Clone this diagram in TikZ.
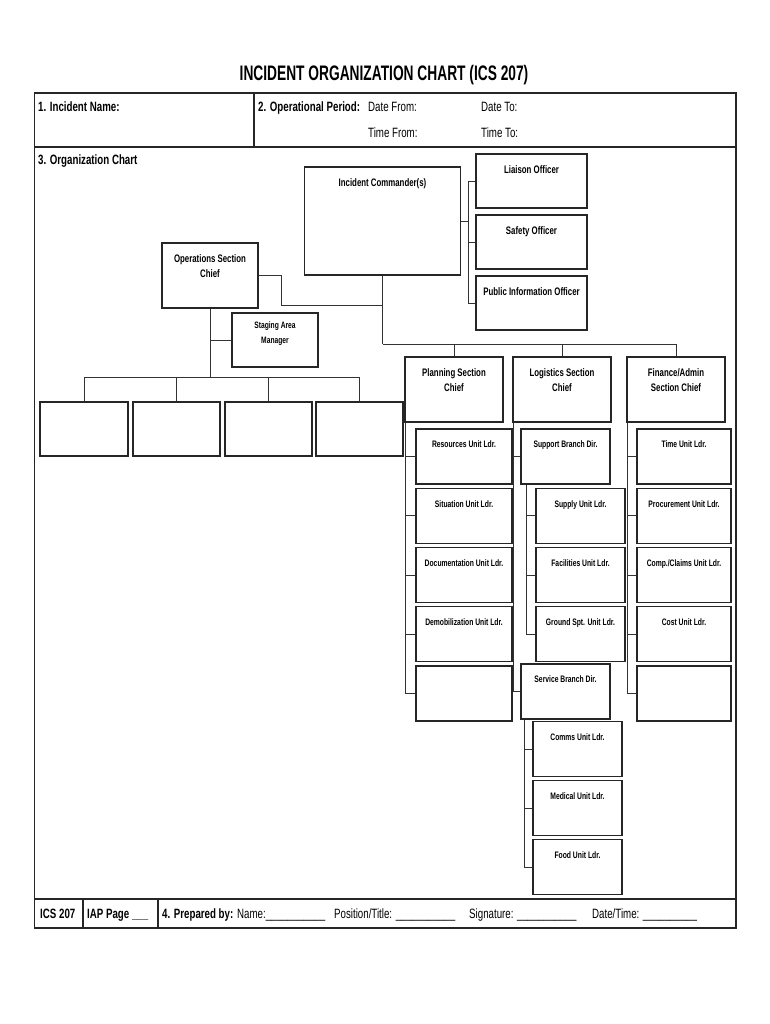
\documentclass[tikz,border=0pt]{standalone}
\usepackage{fontspec}
\setmainfont{Liberation Sans}[FakeStretch=0.72]
\newfontfamily\ttlfont{Liberation Sans}[FakeStretch=0.655]
\usetikzlibrary{calc}
\begin{document}
\begin{tikzpicture}[x=1pt,y=-1pt,
  frame/.style={line width=1.8pt, draw=black!85},
  obox/.style={draw=black!85, line width=1.3pt, inner sep=0pt, anchor=center},
  conn/.style={draw=black!80, line width=0.9pt},
  labbig/.style={anchor=north, inner sep=0pt, yshift=-12.5pt, align=center, font=\bfseries\fontsize{10.9}{15}\selectfont},
  labsm/.style={anchor=north, inner sep=0pt, yshift=-12.5pt, align=center, font=\bfseries\fontsize{9.4}{11}\selectfont},
  labxs/.style={anchor=north, inner sep=0pt, yshift=-9.5pt, align=center, font=\bfseries\fontsize{9.3}{15}\selectfont},
  hb/.style={anchor=base west, inner sep=0pt, font=\bfseries\fontsize{13.5}{15}\selectfont},
  hr/.style={anchor=base west, inner sep=0pt, font=\fontsize{13.5}{15}\selectfont},
  ttl/.style={anchor=base, inner sep=0pt, font=\ttlfont\bfseries\fontsize{21}{24}\selectfont}
]
\useasboundingbox (0,0) rectangle (770,1024);

% title and form frame
\node[ttl] (title) at (384,80.5) {INCIDENT ORGANIZATION CHART (ICS 207)};
\draw[frame] (34.5,93) rectangle (736,928);
\draw[frame] (34.5,147) -- (736,147);
\draw[frame] (254,93) -- (254,147);
\draw[frame] (34.5,899) -- (736,899);
\draw[frame] (83,899) -- (83,928);
\draw[frame] (158,899) -- (158,928);

% header texts
\node[hb] (h1) at (38,111.8) {1. Incident Name:};
\node[hb] (h2) at (258,111.8) {2. Operational Period:};
\node[hr] (df) at (368,111.8) {Date From:};
\node[hr] (dt) at (481,111.8) {Date To:};
\node[hr] (tf) at (368,137.8) {Time From:};
\node[hr] (tt) at (481,137.8) {Time To:};
\node[hb] (h3) at (38,164.8) {3. Organization Chart};

% footer texts
\node[hb] (f1t) at (40,918.8) {ICS 207};
\node[hb] (f2t) at (87,918.8) {IAP Page \_\_\_};
\node[hb] (f3t) at (162,918.8) {4. Prepared by:};
\node[hr] (f4t) at (237,918.8) {Name:\_\_\_\_\_\_\_\_\_\_\_};
\node[hr] (f5t) at (334,918.8) {Position/Title: \_\_\_\_\_\_\_\_\_\_\_};
\node[hr] (f6t) at (469,918.8) {Signature: \_\_\_\_\_\_\_\_\_\_\_};
\node[hr] (f7t) at (592,918.8) {Date/Time: \_\_\_\_\_\_\_\_\_\_};

% command and general staff
\node[obox, minimum width=156pt, minimum height=108pt, label={[labbig]north:Incident Commander(s)}] (ic) at (382.5,221) {};
\node[obox, minimum width=111pt, minimum height=54pt, label={[labbig]north:Liaison Officer}] (lo) at (531.5,181) {};
\node[obox, minimum width=111pt, minimum height=54pt, label={[labbig]north:Safety Officer}] (so) at (531.5,242) {};
\node[obox, minimum width=111pt, minimum height=54pt, label={[labbig]north:Public Information Officer}] (pio) at (531.5,303) {};
\node[obox, minimum width=96pt, minimum height=65pt, label={[labbig]north:{Operations Section\\Chief}}] (ops) at (210,275.5) {};
\node[obox, minimum width=86pt, minimum height=54pt, label={[labxs]north:{Staging Area\\Manager}}] (sam) at (275,340) {};
\node[obox, minimum width=98pt, minimum height=65pt, label={[labbig]north:{Planning Section\\Chief}}] (pl) at (454,389.5) {};
\node[obox, minimum width=98pt, minimum height=65pt, label={[labbig]north:{Logistics Section\\Chief}}] (lg) at (562,389.5) {};
\node[obox, minimum width=98pt, minimum height=65pt, label={[labbig]north:{Finance/Admin\\Section Chief}}] (fin) at (676,389.5) {};

% operations branches
\node[obox, minimum width=88pt, minimum height=54pt] (b1) at (84,429) {};
\node[obox, minimum width=87pt, minimum height=54pt] (b2) at (176.5,429) {};
\node[obox, minimum width=87pt, minimum height=54pt] (b3) at (268.5,429) {};
\node[obox, minimum width=87pt, minimum height=54pt] (b4) at (359.5,429) {};

% planning units
\node[obox, minimum width=96pt, minimum height=55pt, label={[labsm]north:Resources Unit Ldr.}] (p1) at (464,456.5) {};
\node[obox, minimum width=96pt, minimum height=55pt, label={[labsm]north:Situation Unit Ldr.}] (p2) at (464,515.75) {};
\node[obox, minimum width=96pt, minimum height=55pt, label={[labsm]north:Documentation Unit Ldr.}] (p3) at (464,575) {};
\node[obox, minimum width=96pt, minimum height=55pt, label={[labsm]north:Demobilization Unit Ldr.}] (p4) at (464,634.25) {};
\node[obox, minimum width=96pt, minimum height=55pt] (p5) at (464,693.5) {};

% logistics units
\node[obox, minimum width=89pt, minimum height=55pt, label={[labsm]north:Support Branch Dir.}] (sup) at (565.5,456.5) {};
\node[obox, minimum width=89pt, minimum height=55pt, label={[labsm]north:Supply Unit Ldr.}] (su1) at (580.5,515.75) {};
\node[obox, minimum width=89pt, minimum height=55pt, label={[labsm]north:Facilities Unit Ldr.}] (su2) at (580.5,575) {};
\node[obox, minimum width=89pt, minimum height=55pt, label={[labsm]north:Ground Spt. Unit Ldr.}] (su3) at (580.5,634.25) {};
\node[obox, minimum width=89pt, minimum height=55pt, label={[labsm]north:Service Branch Dir.}] (svc) at (565.5,691.5) {};
\node[obox, minimum width=89pt, minimum height=55pt, label={[labsm]north:Comms Unit Ldr.}] (sv1) at (577.5,749) {};
\node[obox, minimum width=89pt, minimum height=55pt, label={[labsm]north:Medical Unit Ldr.}] (sv2) at (577.5,808) {};
\node[obox, minimum width=89pt, minimum height=55pt, label={[labsm]north:Food Unit Ldr.}] (sv3) at (577.5,867) {};

% finance units
\node[obox, minimum width=94pt, minimum height=55pt, label={[labsm]north:Time Unit Ldr.}] (fi1) at (684,456.5) {};
\node[obox, minimum width=94pt, minimum height=55pt, label={[labsm]north:Procurement Unit Ldr.}] (fi2) at (684,515.75) {};
\node[obox, minimum width=94pt, minimum height=55pt, label={[labsm]north:Comp./Claims Unit Ldr.}] (fi3) at (684,575) {};
\node[obox, minimum width=94pt, minimum height=55pt, label={[labsm]north:Cost Unit Ldr.}] (fi4) at (684,634.25) {};
\node[obox, minimum width=94pt, minimum height=55pt] (fi5) at (684,693.5) {};

% connectors: command staff
\draw[conn] (ic.east) -- ++(8,0);
\draw[conn] (lo.west) -- ++(-7,0) |- (pio.west);
\draw[conn] (so.west) -- ++(-7,0);

% connectors: IC to sections
\coordinate (icj) at (382.5,344);
\coordinate (opsj) at (382.5,305);
\draw[conn] (ic.south) -- (icj);
\draw[conn] (ops.east) -- ++(23,0) |- (opsj);
\draw[conn] (icj) -| (fin.north);
\draw[conn] (pl.north) -- (pl.north |- icj);
\draw[conn] (lg.north) -- (lg.north |- icj);

% operations
\coordinate (bar) at ($(b1.north)+(0,-24)$);
\draw[conn] (ops.south) -- (ops.south |- bar);
\draw[conn] (sam.west) -- (sam.west -| ops.south);
\draw[conn] (b1.north) -- (bar) -| (b4.north);
\draw[conn] (b2.north) -- (b2.north |- bar);
\draw[conn] (b3.north) -- (b3.north |- bar);

% planning
\coordinate (plv) at ($(pl.south west)+(1.5,0)$);
\draw[conn] (plv) |- (p5.west);
\draw[conn] (p1.west) -- (p1.west -| plv);
\draw[conn] (p2.west) -- (p2.west -| plv);
\draw[conn] (p3.west) -- (p3.west -| plv);
\draw[conn] (p4.west) -- (p4.west -| plv);

% logistics
\coordinate (lgv) at ($(lg.south west)+(1.5,0)$);
\draw[conn] (lgv) |- (svc.west);
\draw[conn] (sup.west) -- (sup.west -| lgv);
\coordinate (supv) at ($(sup.south west)+(6,0)$);
\draw[conn] (supv) |- (su3.west);
\draw[conn] (su1.west) -- (su1.west -| supv);
\draw[conn] (su2.west) -- (su2.west -| supv);
\coordinate (svcv) at ($(svc.south west)+(4,0)$);
\draw[conn] (svcv) |- (sv3.west);
\draw[conn] (sv1.west) -- (sv1.west -| svcv);
\draw[conn] (sv2.west) -- (sv2.west -| svcv);

% finance
\coordinate (fnv) at ($(fin.south west)+(1.5,0)$);
\draw[conn] (fnv) |- (fi5.west);
\draw[conn] (fi1.west) -- (fi1.west -| fnv);
\draw[conn] (fi2.west) -- (fi2.west -| fnv);
\draw[conn] (fi3.west) -- (fi3.west -| fnv);
\draw[conn] (fi4.west) -- (fi4.west -| fnv);
\end{tikzpicture}
\end{document}
